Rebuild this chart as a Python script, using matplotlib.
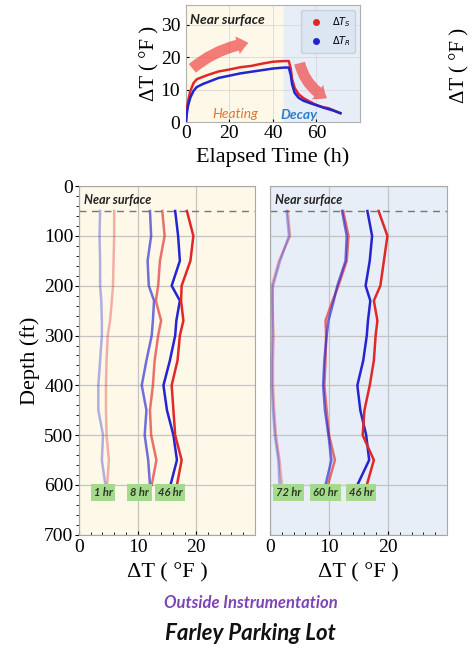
import matplotlib
matplotlib.use('Agg')
import matplotlib.pyplot as plt
from matplotlib.patches import FancyArrowPatch
from matplotlib.ticker import MultipleLocator
from matplotlib.lines import Line2D

# ---- top inset: heating / decay curves ----
t_s = [0, 0.5, 1, 2, 3.5, 5, 8, 10, 15, 20, 25, 30, 35, 40, 45, 47.3, 48.2, 48.8, 50, 51.8, 54, 56.4, 59, 61, 63, 65.5, 68, 70, 71]
dT_s = [0, 4.5, 6.5, 9.5, 12, 13.2, 14.0, 14.5, 15.6, 16.2, 16.9, 17.3, 18.0, 18.6, 18.8, 18.8, 16.5, 13.3, 10.5, 8.6, 7.4, 6.5, 5.6, 5.0, 4.6, 4.3, 3.6, 3.0, 2.7]
t_r = [0, 0.5, 1, 2, 3.5, 5, 8, 10, 15, 20, 25, 30, 35, 40, 45, 47.3, 48.2, 48.8, 50, 51.8, 54, 56.4, 59, 61, 63, 65.5, 68, 70, 71]
dT_r = [0, 3.0, 5.0, 7.5, 9.6, 10.8, 11.8, 12.3, 13.6, 14.3, 15.0, 15.5, 16.0, 16.5, 16.8, 16.8, 14.5, 11.7, 9.0, 7.5, 6.6, 6.0, 5.4, 5.0, 4.5, 4.0, 3.5, 3.0, 2.8]

# ---- depth profiles (depth in ft, dT in F) ----
depth = [50, 100, 150, 200, 230, 270, 300, 350, 400, 450, 500, 550, 600]

heat_1hr_r = [6.0, 6.0, 5.9, 5.8, 5.6, 5.3, 4.9, 4.7, 4.6, 4.6, 4.7, 5.1, 4.8]
heat_1hr_b = [3.6, 3.5, 3.6, 3.6, 3.8, 3.9, 3.9, 3.6, 3.3, 3.3, 4.1, 3.9, 4.5]
heat_8hr_r = [14.2, 14.6, 13.8, 13.5, 13.1, 14.0, 13.5, 12.9, 12.6, 12.1, 12.3, 13.2, 12.4]
heat_8hr_b = [12.1, 12.3, 11.7, 11.9, 12.8, 12.6, 12.4, 11.5, 10.7, 11.5, 11.2, 11.8, 12.1]
heat_46hr_r = [18.4, 19.5, 19.0, 17.5, 17.4, 17.8, 17.2, 16.8, 15.8, 16.1, 16.4, 17.5, 16.7]
heat_46hr_b = [16.4, 16.9, 17.2, 15.8, 17.2, 16.6, 16.4, 15.5, 14.4, 15.0, 16.1, 16.7, 15.6]

decay_72hr_r = [3.0, 3.4, 1.5, 0.3, 0.4, 0.5, 0.6, 0.5, 0.5, 0.7, 1.0, 1.6, 2.0]
decay_72hr_b = [2.8, 3.2, 1.7, 0.5, 0.4, 0.4, 0.4, 0.3, 0.3, 0.5, 0.8, 1.4, 1.6]
decay_60hr_r = [12.4, 13.3, 13.0, 11.6, 10.6, 9.4, 9.5, 9.4, 9.2, 9.6, 10.0, 11.0, 9.8]
decay_60hr_b = [12.2, 13.0, 12.8, 11.4, 10.8, 9.9, 9.6, 9.2, 9.0, 9.3, 9.9, 10.4, 9.4]
decay_46hr_r = [18.4, 19.9, 19.3, 18.7, 17.6, 18.2, 17.9, 17.6, 16.9, 16.0, 15.7, 17.6, 16.4]
decay_46hr_b = [16.5, 17.3, 16.9, 16.2, 17.0, 16.6, 16.4, 15.8, 14.8, 15.3, 16.3, 16.8, 14.8]

heat_labels = ['1 hr', '8 hr', '46 hr']
heat_label_x = [4.1, 10.3, 15.5]
decay_labels = ['72 hr', '60 hr', '46 hr']
decay_label_x = [3.1, 9.4, 15.4]

RED = '#e02828'
BLUE = '#2424d0'
CREAM = '#fdf8e8'
LBLUE = '#e8eef7'
SERIF = 'Liberation Serif'
SANS = 'Lato'

fig = plt.figure(figsize=(4.73, 6.53), dpi=100)

# ---------------- inset ----------------
ax0 = fig.add_axes([0.393, 0.813, 0.368, 0.179])
ax0.set_xlim(0, 80)
ax0.set_ylim(0, 36)
ax0.axvspan(0, 45, color=CREAM, zorder=0)
ax0.axvspan(45, 80, color=LBLUE, zorder=0)
ax0.grid(True, color='#d8d8d8', lw=0.6, zorder=1)
ax0.plot(t_s, dT_s, color=RED, lw=1.8, zorder=3)
ax0.plot(t_r, dT_r, color=BLUE, lw=1.8, zorder=3)
ax0.set_xticks([0, 20, 40, 60])
ax0.set_yticks([0, 10, 20, 30])
ax0.tick_params(labelsize=14, length=2, direction='in')
ax0.tick_params(axis='x', pad=2)
ax0.tick_params(axis='y', pad=4)
for lab in ax0.get_xticklabels() + ax0.get_yticklabels():
    lab.set_fontfamily(SERIF)
for sp in ax0.spines.values():
    sp.set_color('#b0b0b0')
ax0.set_xlabel('Elapsed Time (h)', fontfamily=SERIF, fontsize=16, labelpad=4)
ax0.set_ylabel('ΔT ( °F )', fontfamily=SERIF, fontsize=15, labelpad=1)
ax0.text(2, 31.5, 'Near surface', fontfamily=SANS, fontstyle='italic',
         fontweight='bold', fontsize=10, color='#222222', va='center')
ax0.text(12, 2.6, 'Heating', fontfamily=SANS, fontstyle='italic',
         fontsize=10, color='#e07838', va='center')
ax0.text(43.5, 2.3, 'Decay', fontfamily=SANS, fontstyle='italic', fontweight='bold',
         fontsize=10, color='#2a80d0', va='center')
ax0.add_patch(FancyArrowPatch((2, 16), (30, 24.5), connectionstyle='arc3,rad=-0.15',
                              arrowstyle='simple,head_width=13,tail_width=8,head_length=8',
                              color='#f04848', alpha=0.7, lw=0, zorder=2))
ax0.add_patch(FancyArrowPatch((52, 19), (66, 7), connectionstyle='arc3,rad=0.25',
                              arrowstyle='simple,head_width=13,tail_width=8,head_length=8',
                              color='#f04848', alpha=0.7, lw=0, zorder=2))
handles = [Line2D([], [], marker='o', ls='', color=RED, markersize=4),
           Line2D([], [], marker='o', ls='', color=BLUE, markersize=4)]
leg = ax0.legend(handles, [r'$\Delta T_S$', r'$\Delta T_R$'], loc='upper right',
                 fontsize=7, frameon=True, facecolor='#dce5f2', edgecolor='#c8d0dc',
                 handletextpad=0.6, borderpad=0.5, labelspacing=0.6)
leg.get_frame().set_alpha(1)

# ---------------- depth panels ----------------
def profile_panel(rect, bg, curves, labels, label_x, show_ylabel):
    ax = fig.add_axes(rect)
    ax.set_facecolor(bg)
    ax.set_xlim(0, 30)
    ax.set_ylim(700, 0)
    ax.set_xticks([0, 10, 20])
    ax.set_yticks(range(0, 701, 100))
    ax.xaxis.set_minor_locator(MultipleLocator(2))
    ax.yaxis.set_minor_locator(MultipleLocator(20))
    ax.grid(True, which='major', color='#c4c4c4', lw=0.9, zorder=1)
    for vals, color, alpha in curves:
        ax.plot(vals, depth, color=color, alpha=alpha, lw=1.8, zorder=3)
    ax.axhline(50, color='#777777', lw=1.0, ls=(0, (5, 4)), zorder=2)
    ax.text(0.8, 27, 'Near surface', fontfamily=SANS, fontstyle='italic',
            fontweight='bold', fontsize=9, color='#222222', va='center')
    for lab, x in zip(labels, label_x):
        ax.text(x, 615, lab, fontfamily=SANS, fontstyle='italic', fontweight='bold',
                fontsize=8, color='#2a3a20', ha='center', va='center', zorder=4,
                bbox=dict(boxstyle='square,pad=0.25', facecolor='#a5d98e',
                          edgecolor='none'))
    ax.tick_params(axis='x', direction='in', labelsize=14, length=3, pad=3)
    ax.tick_params(axis='x', which='minor', direction='in', length=2)
    ax.tick_params(axis='y', direction='out', labelsize=14, length=3, pad=1)
    ax.tick_params(axis='y', which='minor', direction='out', length=2)
    for lab in ax.get_xticklabels() + ax.get_yticklabels():
        lab.set_fontfamily(SERIF)
    for sp in ax.spines.values():
        sp.set_color('#a8a8a8')
    ax.set_xlabel('ΔT ( °F )', fontfamily=SERIF, fontsize=16, labelpad=5)
    if show_ylabel:
        ax.set_ylabel('Depth (ft)', fontfamily=SERIF, fontsize=16, labelpad=3)
    else:
        ax.set_yticklabels([])
        ax.tick_params(axis='y', which='both', length=0)
    return ax

heat_curves = [(heat_1hr_b, BLUE, 0.35), (heat_1hr_r, RED, 0.35),
               (heat_8hr_b, BLUE, 0.65), (heat_8hr_r, RED, 0.65),
               (heat_46hr_b, BLUE, 1.0), (heat_46hr_r, RED, 1.0)]
decay_curves = [(decay_72hr_r, RED, 0.35), (decay_72hr_b, BLUE, 0.35),
                (decay_60hr_r, RED, 0.65), (decay_60hr_b, BLUE, 0.65),
                (decay_46hr_b, BLUE, 1.0), (decay_46hr_r, RED, 1.0)]

profile_panel([0.167, 0.181, 0.372, 0.534], CREAM, heat_curves,
              heat_labels, heat_label_x, True)
profile_panel([0.571, 0.181, 0.374, 0.534], LBLUE, decay_curves,
              decay_labels, decay_label_x, False)

fig.text(0.53, 0.077, 'Outside Instrumentation', fontfamily=SANS, fontstyle='italic',
         fontweight='bold', fontsize=12, color='#7d44b8', ha='center', va='center')
fig.text(0.53, 0.03, 'Farley Parking Lot', fontfamily=SANS, fontstyle='italic',
         fontweight='bold', fontsize=16, color='#111111', ha='center', va='center')
fig.text(0.972, 0.90, 'ΔT ( °F )', fontfamily=SERIF, fontsize=15, rotation=90,
         ha='center', va='center')

fig.savefig('out.png', dpi=100)
